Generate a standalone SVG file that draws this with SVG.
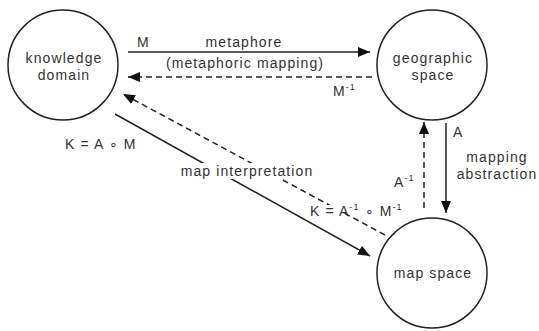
<svg xmlns="http://www.w3.org/2000/svg" width="539" height="331" viewBox="0 0 539 331">
<style>
.node{fill:#fff;stroke:#222;stroke-width:1.5}
text{font-family:"Liberation Sans",Arial,sans-serif;font-size:14px;letter-spacing:1.1px;fill:#333}
.m{text-anchor:middle}
.sup{font-size:9px}
.solid{stroke:#222;stroke-width:1.5;fill:none}
.dash{stroke:#222;stroke-width:1.5;fill:none;stroke-dasharray:6 4}
.bg{fill:#fff}
</style>
<defs>
<marker id="ah" viewBox="0 0 12 10" refX="12" refY="5" markerWidth="12" markerHeight="10" markerUnits="userSpaceOnUse" orient="auto">
<path d="M0,0 L12,5 L0,10 Z" fill="#111"/>
</marker>
</defs>
<g id="knowledge-domain">
<circle class="node" cx="63" cy="65" r="55"/>
<text class="m" x="64" y="63">knowledge</text>
<text class="m" x="64" y="80">domain</text>
</g>
<g id="geographic-space">
<circle class="node" cx="432" cy="65" r="55"/>
<text class="m" x="433" y="63">geographic</text>
<text class="m" x="433" y="80">space</text>
</g>
<g id="map-space">
<circle class="node" cx="432" cy="273" r="55"/>
<text class="m" x="433" y="278">map space</text>
</g>
<g id="connectors">
<line class="solid" x1="128" y1="52" x2="370" y2="52" marker-end="url(#ah)"/>
<line class="dash" x1="372" y1="77" x2="128" y2="77" marker-end="url(#ah)"/>
<line class="solid" x1="115" y1="114" x2="370" y2="256" marker-end="url(#ah)"/>
<line class="dash" x1="385" y1="235" x2="123" y2="94" marker-end="url(#ah)"/>
<line class="dash" x1="424" y1="208" x2="424" y2="122" marker-end="url(#ah)"/>
<line class="solid" x1="446" y1="123" x2="446" y2="213" marker-end="url(#ah)"/>
</g>
<g id="labels">
<text x="137" y="47">M</text>
<text class="m" x="244" y="47">metaphore</text>
<text class="m" x="245" y="68">(metaphoric mapping)</text>
<text x="333" y="96">M<tspan class="sup" dy="-6">-1</tspan></text>
<text x="65" y="149">K = A ∘ M</text>
<rect class="bg" x="176" y="163" width="143" height="16"/>
<text class="m" x="247" y="176">map interpretation</text>
<rect class="bg" x="312" y="205" width="30" height="11"/>
<text x="310" y="216">K = A<tspan class="sup" dy="-6">-1</tspan><tspan dy="6"> ∘ M</tspan><tspan class="sup" dy="-6">-1</tspan></text>
<text x="394" y="187">A<tspan class="sup" dy="-6">-1</tspan></text>
<text x="453" y="137">A</text>
<text class="m" x="497" y="162">mapping</text>
<text class="m" x="497" y="179">abstraction</text>
</g>
</svg>
